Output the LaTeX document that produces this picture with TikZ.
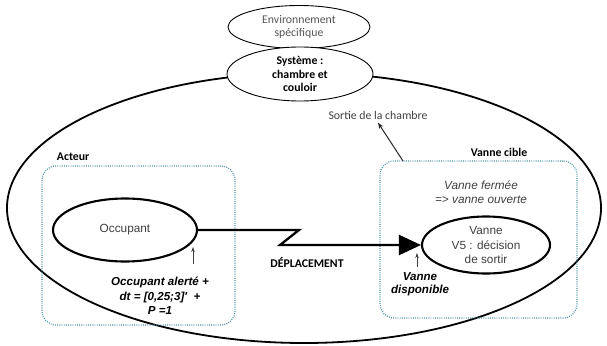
\documentclass[tikz,border=0pt]{standalone}
\usepackage{fontspec}
\setmainfont{Carlito}
\newfontfamily\arialfont{Liberation Sans}
\usetikzlibrary{arrows.meta, positioning, shapes.geometric}
\definecolor{zteal}{HTML}{4A90A4}
\definecolor{tgray}{HTML}{3F3F3F}
\definecolor{lgray}{HTML}{555555}
\tikzset{
  oval/.style={ellipse, draw, line width=0.9pt, inner sep=0pt, align=center,
               font=\fontsize{11.8}{13.5}\selectfont},
  boldoval/.style={ellipse, draw, line width=2.1pt, inner sep=0pt, align=center,
                   text=tgray, font=\arialfont\fontsize{11.8}{14.5}\selectfont},
  zone/.style={draw=zteal, line width=1.2pt, dash pattern=on 0.9pt off 1.3pt,
               rounded corners=14pt},
  zlabel/.style={font=\bfseries\fontsize{11.8}{13}\selectfont},
  note/.style={align=center, font=\arialfont\bfseries\itshape\fontsize{11.6}{14.5}\selectfont},
  tinyarr/.style={-{Stealth[length=5pt,width=3.5pt]}, line width=0.6pt, tgray},
  movearr/.style={line width=2.3pt, -{Triangle[length=22pt,width=20pt]}},
}
\begin{document}
\begin{tikzpicture}[x=1pt, y=-1pt, >=Latex, font=\fontsize{11.8}{13.5}\selectfont]
  \useasboundingbox (0,0) rectangle (607,345);

  %% ── outer boundary ──
  \draw[line width=1.8pt] (304,208) ellipse (297pt and 135pt);

  %% ── system ──
  \node[oval, text=lgray, minimum width=142pt, minimum height=43pt] (env) at (299,27)
    {Environnement\\spécifique};
  \node[oval, fill=white, minimum width=146pt, minimum height=54pt,
        font=\bfseries\fontsize{11.8}{13.5}\selectfont] (sys) at (300,74)
    {Système :\\chambre et\\couloir};

  %% ── actor zone ──
  \node[zone, minimum width=193pt, minimum height=159pt] (acteurbox) at (138.5,245.5) {};
  \node[zlabel, above right=1pt and 12pt of acteurbox.north west] (acteurlbl) {Acteur};
  \node[boldoval, minimum width=144pt, minimum height=63pt] (occ) at (125,230) {Occupant};
  \coordinate (occtip) at (193,247);
  \coordinate (occfoot) at (193,264);
  \draw[tinyarr] (occfoot) -- (occtip);
  \node[note] (alerte) at (160,296) {Occupant alerté +\\dt = [0,25;3]'\ \ +\\P =1};

  %% ── target zone ──
  \node[zone, minimum width=197pt, minimum height=157pt] (ciblebox) at (478.5,239.5) {};
  \node[zlabel] (ciblelbl) at (499,152) {Vanne cible};
  \node[align=center, text=tgray, font=\arialfont\itshape\fontsize{11.8}{14.5}\selectfont]
    (etat) at (481,192) {Vanne fermée\\=> vanne ouverte};
  \node[boldoval, minimum width=128pt, minimum height=57pt] (vanne) at (486,245)
    {Vanne\\V5 : décision\\de sortir};
  \coordinate (vtip) at (417,253);
  \coordinate (vfoot) at (417,267);
  \draw[tinyarr] (vfoot) -- (vtip);
  \node[note, font=\arialfont\bfseries\itshape\fontsize{11.6}{13}\selectfont] (dispo) at (420,284)
    {Vanne\\disponible};

  %% ── movement ──
  \coordinate (zigA) at (299,230);
  \coordinate (zigB) at (280,245);
  \draw[movearr] (occ.east) -- (zigA) -- (zigB) -- (vanne.west);
  \node[font=\bfseries\fontsize{11.8}{13.5}\selectfont] (depl) at (307,263) {DÉPLACEMENT};

  %% ── exit ──
  \node[text=tgray] (sortie) at (378,115) {Sortie de la chambre};
  \coordinate (sortiefoot) at (403,161);
  \draw[-{Stealth[length=6pt,width=4.5pt]}, line width=1pt, black!85] (sortiefoot) -- (sortie.south);
\end{tikzpicture}
\end{document}
